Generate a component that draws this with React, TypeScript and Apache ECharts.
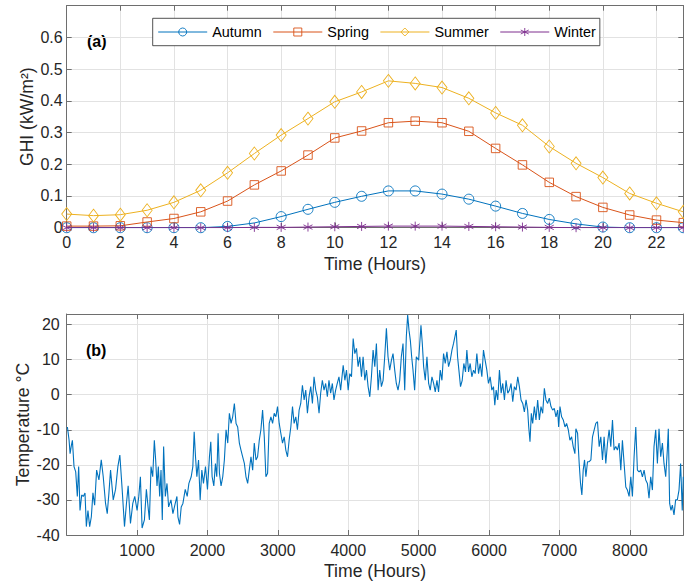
import React, { useEffect, useRef } from 'react';
import * as echarts from 'echarts';

const HOURS = [0, 1, 2, 3, 4, 5, 6, 7, 8, 9, 10, 11, 12, 13, 14, 15, 16, 17, 18, 19, 20, 21, 22, 23];
const AUTUMN = [0, 0, 0, 0, 0, 0, 0.004, 0.015, 0.035, 0.058, 0.08, 0.099, 0.116, 0.116, 0.106, 0.09, 0.068, 0.045, 0.026, 0.012, 0.002, 0, 0, 0];
const SPRING = [0.005, 0.005, 0.006, 0.018, 0.029, 0.05, 0.084, 0.135, 0.179, 0.229, 0.283, 0.305, 0.331, 0.336, 0.331, 0.304, 0.25, 0.198, 0.143, 0.098, 0.064, 0.04, 0.024, 0.016];
const SUMMER = [0.043, 0.038, 0.041, 0.055, 0.08, 0.118, 0.173, 0.234, 0.292, 0.344, 0.397, 0.428, 0.463, 0.455, 0.442, 0.408, 0.362, 0.323, 0.256, 0.203, 0.158, 0.108, 0.077, 0.05];
const WINTER = [0, 0, 0, 0, 0, 0, 0, 0.001, 0.001, 0.002, 0.003, 0.004, 0.005, 0.005, 0.005, 0.004, 0.003, 0.002, 0.001, 0, 0, 0, 0, 0];

const TEMP_HOURS = [
  10, 34, 48, 67, 81, 104, 128, 151, 170, 189, 213, 236, 260, 279, 302, 326, 350, 373, 397, 425,
  458, 491, 519, 552, 576, 600, 623, 661, 694, 727, 755, 788, 821, 849, 873, 906, 939, 967, 1000, 1024,
  1047, 1071, 1104, 1132, 1156, 1175, 1198, 1222, 1245, 1264, 1283, 1302, 1321, 1340, 1358, 1377, 1401, 1425, 1448, 1481,
  1509, 1542, 1566, 1580, 1604, 1627, 1651, 1684, 1712, 1736, 1769, 1792, 1811, 1830, 1849, 1873, 1896, 1920, 1943, 1972,
  2000, 2028, 2047, 2066, 2090, 2113, 2132, 2151, 2170, 2193, 2217, 2240, 2264, 2288, 2311, 2335, 2358, 2382, 2406, 2429,
  2453, 2476, 2500, 2524, 2547, 2571, 2594, 2618, 2642, 2665, 2689, 2712, 2736, 2759, 2783, 2807, 2830, 2854, 2877, 2901,
  2925, 2948, 2972, 2995, 3019, 3042, 3066, 3090, 3113, 3137, 3160, 3184, 3208, 3231, 3255, 3278, 3302, 3325, 3349, 3373,
  3396, 3420, 3443, 3467, 3491, 3514, 3538, 3561, 3585, 3608, 3632, 3656, 3679, 3703, 3726, 3750, 3774, 3797, 3821, 3844,
  3868, 3892, 3928, 3952, 3975, 3999, 4022, 4046, 4070, 4093, 4117, 4140, 4164, 4188, 4211, 4235, 4259, 4282, 4306, 4329,
  4353, 4377, 4400, 4424, 4447, 4471, 4495, 4518, 4542, 4565, 4589, 4613, 4636, 4660, 4683, 4707, 4731, 4754, 4778, 4802,
  4825, 4844, 4863, 4882, 4901, 4920, 4943, 4967, 5000, 5033, 5052, 5071, 5094, 5118, 5142, 5165, 5189, 5213, 5236, 5260,
  5283, 5307, 5331, 5354, 5378, 5402, 5425, 5449, 5473, 5496, 5520, 5534, 5553, 5572, 5595, 5619, 5642, 5666, 5685, 5709,
  5732, 5756, 5780, 5803, 5827, 5851, 5874, 5898, 5921, 5945, 5969, 5992, 6016, 6040, 6063, 6082, 6101, 6124, 6148, 6172,
  6195, 6219, 6242, 6266, 6290, 6313, 6337, 6360, 6384, 6408, 6431, 6455, 6479, 6502, 6526, 6549, 6564, 6582, 6601, 6620,
  6644, 6667, 6691, 6715, 6738, 6762, 6786, 6809, 6833, 6856, 6880, 6904, 6927, 6951, 6975, 6989, 7008, 7031, 7055, 7079,
  7102, 7126, 7149, 7173, 7196, 7220, 7234, 7258, 7281, 7300, 7319, 7338, 7357, 7376, 7399, 7423, 7447, 7470, 7494, 7517,
  7541, 7565, 7588, 7612, 7635, 7659, 7683, 7706, 7730, 7754, 7777, 7801, 7824, 7848, 7872, 7895, 7919, 7943, 7966, 7990,
  8014, 8037, 8061, 8085, 8108, 8132, 8155, 8179, 8203, 8226, 8250, 8273, 8297, 8321, 8344, 8368, 8392, 8415, 8439, 8463,
  8486, 8510, 8533, 8547, 8566, 8585, 8604, 8628, 8651, 8675, 8699, 8722, 8745, 8760,
];
const TEMP_VALUES = [
  -9.2, -13, -16.8, -14.4, -13, -20.5, -22, -29, -20.5, -33, -28.6, -29, -28, -37.6, -33, -37.6, -34.8, -28, -31.5, -21.5,
  -24.3, -18.6, -23.4, -31, -33.9, -28, -21.5, -30, -27, -20.5, -17.2, -27, -37.6, -31, -26, -36.7, -31, -29, -33, -29,
  -23.4, -38, -35.7, -27, -32, -35.7, -20.5, -23.4, -13, -18.6, -26, -20.5, -29, -21.5, -35.7, -14.8, -29, -25.3, -32, -30,
  -33.9, -31, -29, -34.8, -37, -32, -31, -27, -29, -25.3, -23.4, -20.5, -10.6, -17.7, -23.4, -18.6, -30, -21.5, -25.3, -20.5,
  -27, -17.7, -13.4, -23.4, -26, -19.6, -23.4, -11, -22.4, -26, -23.4, -18.6, -10, -13.8, -5.3, -8.2, -6.3, -2.5, -8.2, -9.2,
  -13.8, -15.8, -17.7, -19.6, -23.4, -25.3, -21.5, -17.7, -21.5, -13.8, -18.6, -17.7, -13, -10, -4.4, -12, -23.4, -22.4, -8.2, -6.3,
  -8.2, -5.3, -6.3, -3.4, -8.2, -11, -13.8, -12, -15.8, -17.7, -13, -9.2, -3.4, -8.2, -6.3, -10, -4.4, -2.5, 2.7, -1.5,
  1.3, -5.3, -0.6, 2.3, -2.5, 5.1, 1.3, -0.6, -5.3, 0.4, 4.1, 1.3, 3.2, -0.6, 4.1, 0.4, 3.2, -1.5, 1.3, 3.2,
  5.1, 1.3, 8.4, 4.1, 7, 1.3, 6, 5.1, 16, 11.7, 13.2, 8, 10.8, 5.1, 10.8, 4.1, 7, 2.3, -0.6, 5.1,
  12.7, 8, 14.6, 1.3, 7, 2.3, 4.1, 10.8, 18.9, 10.8, 7, 9.8, 11.7, 7, 3.2, 1.3, 4.1, 10.8, 14.6, 1.3,
  16.5, 22.7, 18.4, 15.5, 10.8, 7, 1.3, 10.8, 9.8, 19.8, 14.6, 8, 4.1, 10.8, 3.2, 1.3, 5.1, 3.2, 0.8, 4.1,
  0.8, 7, 4.1, 11.7, 8.9, 12.2, 8, 9.8, 12.7, 14.6, 17, 18.4, 10.8, 7, 2.3, 4.1, 8.9, 6.5, 12.7, 6.5,
  8.9, 5.1, 7, 6, 11.7, 6, 8.9, 5.1, 12.7, 9.8, 7, 3.2, 5.1, 1.3, 2.3, -3, 1.3, -1.5, 7, 0.4,
  3.2, -1.5, 4.1, 0.4, 1.3, 3.2, -2, 2.3, 1.3, 5.1, 2.3, -1.5, -2.5, -4.9, -1.5, -4.4, -9.2, -13.4, -5.3, -8.2,
  -3.4, -7.2, -1.5, -7.2, -3.4, -5.3, 1.8, -1.5, -2.5, -1, -3.4, -4.4, -3.9, -6.3, -4.4, -9.2, -3.4, -6.3, -7.2, -9.2,
  -8.2, -10, -13, -12, -14.8, -16.8, -9.7, -11, -19.6, -25.3, -28.6, -21.5, -18.6, -23.4, -19.1, -19.1, -18.6, -12, -10, -8.2,
  -7.7, -14.8, -12, -18.6, -12, -19.6, -13.8, -10, -14.8, -7.2, -15.8, -14.8, -15.8, -13.8, -21.5, -13, -19.6, -26.3, -27.2, -29,
  -23.4, -29, -17.7, -9.2, -21.5, -22, -21.5, -23.4, -21.5, -24.3, -25.3, -29.5, -23.4, -27.2, -14.8, -10, -19.6, -9.7, -17.7, -13.8,
  -19.6, -23.4, -15.8, -9.7, -31, -33, -31.5, -34.3, -30, -30, -27.2, -19.6, -33, -23.4,
];

const SERIES_NAMES = ['Autumn', 'Spring', 'Summer', 'Winter'];
const COLORS = ['#0072BD', '#D95319', '#EDB120', '#7E2F8E'];

const FONT = 'Liberation Sans, Arial, Helvetica, sans-serif';
const AXIS_COLOR = '#6e6e6e';
const TEXT_COLOR = '#262626';
const GRID_COLOR = '#e2e2e2';

const ASTERISK = 'path://M0,-10L0,10M-8.66,-5L8.66,5M-8.66,5L8.66,-5';

export default function App() {
  const ref = useRef<HTMLDivElement>(null);

  useEffect(() => {
    const chart = echarts.init(ref.current!, null, { renderer: 'svg' });

    const grids = [
      { left: 66.7, top: 5.7, width: 616.6, height: 222 },
      { left: 66.7, top: 314, width: 616.6, height: 221 },
    ];

    const mainX = (gridIndex: number, min: number, max: number, interval: number, hideMin: boolean) => ({
      type: 'value',
      gridIndex,
      position: 'bottom',
      min,
      max,
      interval,
      name: 'Time (Hours)',
      nameLocation: 'middle',
      nameGap: 27,
      nameMoveOverlap: false,
      nameTextStyle: { fontFamily: FONT, fontSize: 17.6, color: TEXT_COLOR },
      axisLine: { show: true, onZero: false, lineStyle: { color: AXIS_COLOR, width: 1 } },
      axisTick: { show: true, inside: true, length: 5, lineStyle: { color: AXIS_COLOR } },
      axisLabel: {
        fontFamily: FONT,
        fontSize: 16,
        color: TEXT_COLOR,
        margin: 7,
        showMaxLabel: false,
        showMinLabel: !hideMin,
        formatter: (v: number) => String(v),
      },
      splitLine: { show: true, lineStyle: { color: GRID_COLOR, width: 1 } },
    });

    const boxX = (gridIndex: number, min: number, max: number, interval: number) => ({
      type: 'value',
      gridIndex,
      position: 'top',
      min,
      max,
      interval,
      axisLine: { show: true, onZero: false, lineStyle: { color: AXIS_COLOR, width: 1 } },
      axisTick: { show: true, inside: true, length: 5, lineStyle: { color: AXIS_COLOR } },
      axisLabel: { show: false },
      splitLine: { show: false },
    });

    const mainY = (
      gridIndex: number, min: number, max: number, interval: number,
      name: string, gap: number, margin: number,
    ) => ({
      type: 'value',
      gridIndex,
      position: 'left',
      min,
      max,
      interval,
      name,
      nameLocation: 'middle',
      nameGap: gap,
      nameMoveOverlap: false,
      nameTextStyle: { fontFamily: FONT, fontSize: 17.6, color: TEXT_COLOR },
      axisLine: { show: true, onZero: false, lineStyle: { color: AXIS_COLOR, width: 1 } },
      axisTick: { show: true, inside: true, length: 5, lineStyle: { color: AXIS_COLOR } },
      axisLabel: {
        fontFamily: FONT,
        fontSize: 16,
        color: TEXT_COLOR,
        margin,
        showMaxLabel: false,
        formatter: (v: number) => String(Math.round(v * 100) / 100),
      },
      splitLine: { show: true, lineStyle: { color: GRID_COLOR, width: 1 } },
    });

    const boxY = (gridIndex: number, min: number, max: number, interval: number) => ({
      type: 'value',
      gridIndex,
      position: 'right',
      min,
      max,
      interval,
      axisLine: { show: true, onZero: false, lineStyle: { color: AXIS_COLOR, width: 1 } },
      axisTick: { show: true, inside: true, length: 5, lineStyle: { color: AXIS_COLOR } },
      axisLabel: { show: false },
      splitLine: { show: false },
    });

    const seasonal = [AUTUMN, SPRING, SUMMER, WINTER];
    const symbols = ['circle', 'rect', 'diamond', ASTERISK];
    const sizes: any[] = [10, 8.5, [10, 13], 9];

    const lineSeries = seasonal.map((vals, i) => ({
      name: SERIES_NAMES[i],
      type: 'line',
      xAxisIndex: 0,
      yAxisIndex: 0,
      data: HOURS.map((h, j) => [h, vals[j]]),
      symbol: symbols[i],
      symbolSize: sizes[i],
      showSymbol: true,
      showAllSymbol: true,
      lineStyle: { color: COLORS[i], width: 1 },
      itemStyle: { color: 'rgba(255,255,255,0)', borderColor: COLORS[i], borderWidth: 0.9 },
      emphasis: { disabled: true },
      z: 2 + i,
    }));

    const option: any = {
      animation: false,
      backgroundColor: '#ffffff',
      textStyle: { fontFamily: FONT },
      grid: grids,
      xAxis: [
        mainX(0, 0, 23, 2, false),
        boxX(0, 0, 23, 2),
        mainX(1, 0, 8760, 1000, true),
        boxX(1, 0, 8760, 1000),
      ],
      yAxis: [
        mainY(0, 0, 0.7, 0.1, 'GHI (kW/m²)', 31, 4),
        boxY(0, 0, 0.7, 0.1),
        mainY(1, -40, 23, 10, 'Temperature °C', 35, 7),
        boxY(1, -40, 23, 10),
      ],
      legend: {
        data: SERIES_NAMES,
        left: 152.7,
        top: 18.3,
        orient: 'horizontal',
        padding: [6.7, 4, 6.7, 5],
        itemGap: 11,
        itemWidth: 49,
        itemHeight: 10,
        borderColor: '#262626',
        borderWidth: 0.8,
        borderRadius: 0,
        backgroundColor: '#ffffff',
        lineStyle: { width: 1 },
        itemStyle: { borderWidth: 0.9 },
        textStyle: { fontFamily: FONT, fontSize: 14.4, color: '#000000' },
        selectedMode: false,
      },
      graphic: [
        {
          type: 'text',
          left: 87,
          top: 33,
          style: { text: '(a)', font: `bold 16px ${FONT}`, fill: '#000000' },
        },
        {
          type: 'text',
          left: 86,
          top: 342,
          style: { text: '(b)', font: `bold 16px ${FONT}`, fill: '#000000' },
        },
      ],
      series: [
        ...lineSeries,
        {
          name: 'Temperature',
          type: 'line',
          xAxisIndex: 2,
          yAxisIndex: 2,
          data: TEMP_HOURS.map((h, j) => [h, TEMP_VALUES[j]]),
          showSymbol: false,
          symbol: 'none',
          lineStyle: { color: '#0072BD', width: 1.1 },
          emphasis: { disabled: true },
        },
      ],
    };

    chart.setOption(option);
    return () => chart.dispose();
  }, []);

  return (
    <div
      ref={ref}
      style={{ position: 'fixed', left: 0, top: 0, width: 684, height: 585, background: '#fff' }}
    />
  );
}
